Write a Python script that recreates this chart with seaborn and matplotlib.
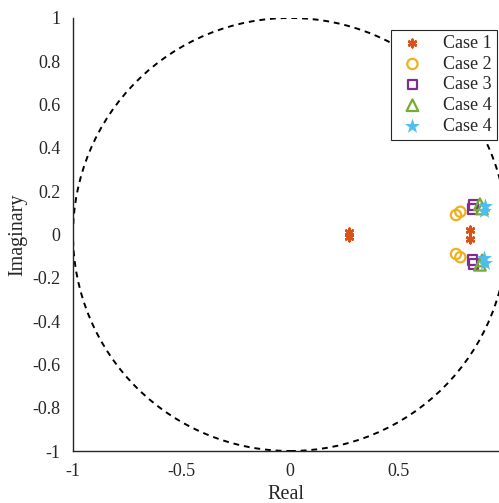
import numpy as np
import pandas as pd
import matplotlib
matplotlib.use("Agg")
import matplotlib.pyplot as plt
import seaborn as sns
from matplotlib.patches import Circle

sns.set_style("white")
plt.rcParams['font.family'] = ['Liberation Serif', 'DejaVu Serif']
plt.rcParams['mathtext.fontset'] = 'stix'

# Data: poles (real, imaginary)
case1_re = [0.27, 0.27, 0.83, 0.83]
case1_im = [0.01, -0.01, 0.02, -0.02]
case2_re = [0.765, 0.785, 0.765, 0.785]
case2_im = [0.09, 0.105, -0.09, -0.105]
case3_re = [0.845, 0.84, 0.845, 0.84]
case3_im = [0.136, 0.118, -0.136, -0.118]
case4a_re = [0.875, 0.885, 0.875, 0.885]
case4a_im = [0.14, 0.12, -0.14, -0.12]
case4b_re = [0.9, 0.895, 0.9, 0.895]
case4b_im = [0.13, 0.11, -0.13, -0.11]

labels = ["Case 1", "Case 2", "Case 3", "Case 4", "Case 4"]
xticks = [-1, -0.5, 0, 0.5]
yticks = [-1, -0.8, -0.6, -0.4, -0.2, 0, 0.2, 0.4, 0.6, 0.8, 1]

fig = plt.figure(figsize=(4.99, 5.03), dpi=100)
ax = fig.add_axes([73/499, 52/503, 426/499, 433/503])

ax.add_patch(Circle((0, 0), 1, fill=False, ls=(0, (3, 2.5)), lw=1.4, color='black'))

series = [
    (case1_re, case1_im, dict(marker=(6, 2, 0), s=30, color='#D95319', linewidths=1.8)),
    (case2_re, case2_im, dict(marker='o', s=55, facecolors='none', edgecolors='#EDB120', linewidths=1.6)),
    (case3_re, case3_im, dict(marker='s', s=45, facecolors='none', edgecolors='#7E2F8E', linewidths=1.6)),
    (case4a_re, case4a_im, dict(marker='^', s=70, facecolors='none', edgecolors='#77AC30', linewidths=1.6)),
    (case4b_re, case4b_im, dict(marker='*', s=130, color='#4DBEEE', linewidths=0)),
]
for (xr, yi, kw), lab in zip(series, labels):
    df = pd.DataFrame({"Real": xr, "Imaginary": yi})
    sns.scatterplot(data=df, x="Real", y="Imaginary", ax=ax, label=lab, **kw)

ax.set_xlim(-1, -1 + 426/217)
ax.set_ylim(-1, 1)
ax.set_xticks(xticks)
ax.set_xticklabels([f"{t:g}" for t in xticks])
ax.set_yticks(yticks)
ax.set_yticklabels([f"{t:g}" for t in yticks])
for s in ['top', 'right']:
    ax.spines[s].set_visible(False)
for s in ['left', 'bottom']:
    ax.spines[s].set_color('#262626')
    ax.spines[s].set_linewidth(1.0)
ax.tick_params(direction='in', length=5, width=0.8, colors='#262626', labelsize=13, pad=9,
               labelcolor='#262626')
ax.set_xlabel("Real", fontsize=14.5, color='#262626', labelpad=3)
ax.set_ylabel("Imaginary", fontsize=14.5, color='#262626', labelpad=4)

leg = ax.legend(loc='upper right', bbox_to_anchor=(0.996, 0.973), fontsize=13, frameon=True,
                fancybox=False, edgecolor='#262626', handletextpad=0.8, borderpad=0.3,
                labelspacing=0.2, handlelength=1.8, borderaxespad=0, framealpha=1)
leg.get_frame().set_linewidth(0.8)
for t in leg.get_texts():
    t.set_color('#262626')

fig.savefig("out.png", dpi=100, facecolor='white')
